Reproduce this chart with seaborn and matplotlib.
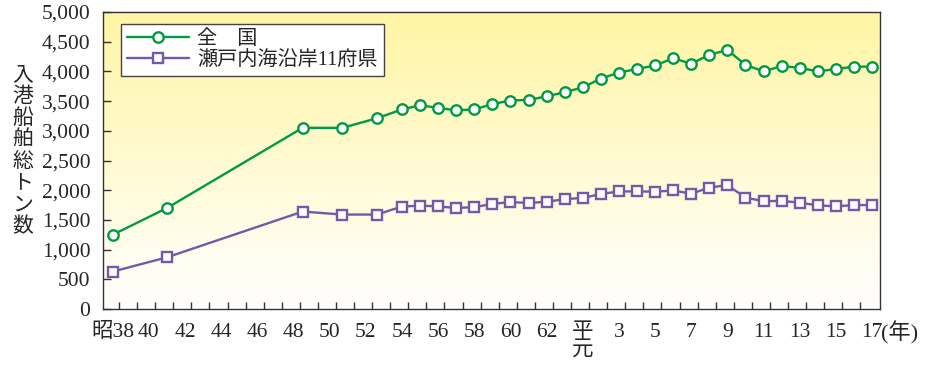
import matplotlib
matplotlib.use('Agg')
import matplotlib.pyplot as plt
from matplotlib.colors import LinearSegmentedColormap
from matplotlib.ticker import FuncFormatter
import numpy as np
import pandas as pd
import seaborn as sns

# x = running Showa year (平成元年 = 64, 平成17年 = 80)
years = [38, 41, 48.5, 50.7, 52.6] + list(range(54, 81))

# 入港船舶総トン数
zenkoku = [1250, 1700, 3050, 3050, 3210,
           3360, 3430, 3385, 3345, 3360, 3450, 3510, 3520, 3580, 3650,
           3730, 3880, 3980, 4040, 4100, 4220, 4130, 4280, 4360, 4110,
           4000, 4090, 4060, 4000, 4040, 4080, 4080]
setouchi = [630, 870, 1640, 1590, 1590,
            1725, 1740, 1728, 1700, 1715, 1770, 1800, 1785, 1805, 1850,
            1870, 1935, 1980, 1980, 1975, 1995, 1940, 2045, 2085, 1875,
            1815, 1820, 1790, 1745, 1728, 1750, 1750]

tick_years = list(range(38, 81, 2))
tick_labels = (['昭38'] + [str(y) for y in range(40, 63, 2)] + ['平\n元'] +
               [str(y) for y in range(3, 18, 2)])

df = pd.DataFrame({'year': years, 'zenkoku': zenkoku, 'setouchi': setouchi})

sns.set_style('ticks')
plt.rcParams['font.family'] = ['Liberation Serif', 'Noto Sans CJK JP']

green = '#009a44'
purple = '#7359a8'

fig = plt.figure(figsize=(9.26, 3.65), dpi=100)
ax = fig.add_axes([103 / 926, 1 - 309 / 365, 777 / 926, 297 / 365])

# yellow-to-white gradient background
cmap = LinearSegmentedColormap.from_list('bg', ['#ffffff', '#fff5a4'])
ax.imshow(np.linspace(0, 1, 256).reshape(-1, 1), cmap=cmap, origin='lower',
          extent=[0, 1, 0, 1], transform=ax.transAxes, aspect='auto', zorder=0)

sns.lineplot(data=df, x='year', y='zenkoku', ax=ax, color=green, lw=1.7,
             marker='o', ms=7.5, mfc='white', mec=green, mew=1.7,
             label='全\u3000国', zorder=3)
sns.lineplot(data=df, x='year', y='setouchi', ax=ax, color=purple, lw=1.7,
             marker='s', ms=7.5, mfc='white', mec=purple, mew=1.7,
             label='瀬戸内海沿岸11府県', zorder=3)

ax.set_xlim(37.46, 80.44)
ax.set_ylim(0, 5000)
ax.set_xlabel('')
ax.set_ylabel('')

ax.set_xticks(tick_years)
ax.set_xticklabels(tick_labels)
ax.set_xticks(np.arange(38.35, 80, 1), minor=True)
ax.tick_params(axis='x', which='major', length=0, pad=10, labelsize=15.5)
ax.tick_params(axis='x', which='minor', direction='in', length=5, width=1, color='#333333')
for lab in ax.get_xticklabels():
    lab.set_linespacing(0.9)

ax.set_yticks(np.arange(0, 5001, 500))
ax.yaxis.set_major_formatter(FuncFormatter(lambda v, p: f'{int(v):,}'))
ax.tick_params(axis='y', direction='in', length=6, width=1, color='#333333',
               pad=9, labelsize=15.5)

for s in ax.spines.values():
    s.set_visible(True)
    s.set_color('#333333')
    s.set_linewidth(1)

leg = ax.legend(loc='upper left', bbox_to_anchor=(0.023, 0.96), borderaxespad=0,
                fontsize=14.5, frameon=True, fancybox=False, handlelength=3.1,
                handletextpad=0.4, labelspacing=0.1, borderpad=0.3)
leg.get_frame().set_edgecolor('#444444')
leg.get_frame().set_linewidth(1)
leg.get_frame().set_facecolor('white')
leg.get_frame().set_alpha(1)

fig.text(22.5 / 926, 1 - 150 / 365, '\n'.join('入港船舶総トン数'), ha='center',
         va='center', fontsize=15, linespacing=0.98, family=['Noto Sans CJK JP'])
fig.text(900 / 926, 1 - 333 / 365, '(年)', ha='center', va='center', fontsize=16)

fig.savefig('out.png', dpi=100)
